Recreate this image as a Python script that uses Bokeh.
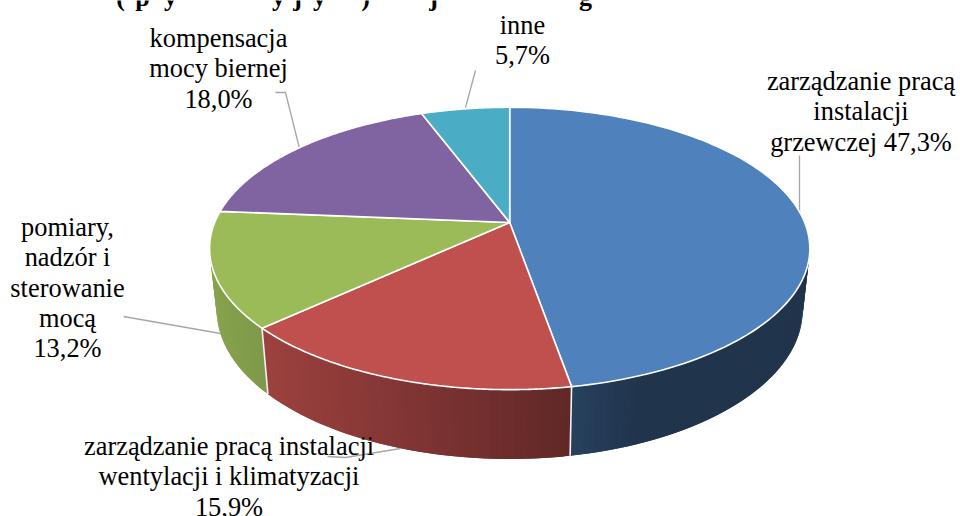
import numpy as np
from bokeh.plotting import figure
from bokeh.models import Range1d
from bokeh.core.properties import value
from bokeh.embed import file_html
from bokeh.resources import INLINE

categories = ["zarządzanie pracą instalacji grzewczej", "zarządzanie pracą instalacji wentylacji i klimatyzacji",
              "pomiary, nadzór i sterowanie mocą", "kompensacja mocy biernej", "inne"]
values = [47.3, 15.9, 13.2, 18.0, 5.7]
colors = ["#4F81BD", "#C0504D", "#9BBB59", "#8064A2", "#4BACC6"]

label_lines = [
    ["zarządzanie pracą", "instalacji", "grzewczej 47,3%"],
    ["zarządzanie pracą instalacji", "wentylacji i klimatyzacji", "15,9%"],
    ["pomiary,", "nadzór i", "sterowanie", "mocą", "13,2%"],
    ["kompensacja", "mocy biernej", "18,0%"],
    ["inne", "5,7%"],
]
label_xy = [(860.5, 80.5), (228.5, 445.5), (67, 226.5), (218, 37.5), (522, 24.5)]
leaders = [
    ([799, 799], [155, 212]),
    ([327, 345, 400], [456, 457, 448]),
    ([123, 220], [316, 333]),
    ([275, 285, 299], [92, 92, 148]),
    ([475, 465], [70, 107]),
]
title_fragments = ["(", "p", "y", "y", "j", "y", ")", "j", "g"]
title_x = [120, 142, 170, 278, 297, 319, 365, 433, 585]

CX, CY_TOP, A, B, K = 509.2, 222, 295, 136.4, 0.184
CY_BOT, A_BOT, B_BOT = 282, 288, 144
SHADE_X = [205, 261, 570, 640, 810]
SHADE_F = [0.88, 0.82, 0.50, 0.40, 0.40]


def top(t):
    u, v = np.sin(t), np.cos(t)
    d = 1 + K * v
    return CX + A * u / d, CY_TOP - B * v / d


def bot(t):
    u, v = np.sin(t), np.cos(t)
    d = 1 + K * v
    return CX + A_BOT * u / d, CY_BOT - B_BOT * v / d


def shade(color, f):
    r, g, b = (int(color[i:i + 2], 16) for i in (1, 3, 5))
    return "#%02x%02x%02x" % (round(r * f), round(g * f), round(b * f))


p = figure(width=960, height=516, output_backend="svg", toolbar_location=None,
           x_range=Range1d(0, 960), y_range=Range1d(516, 0), min_border=0)
p.styles = {"position": "absolute", "left": "0", "top": "0"}
p.axis.visible = False
p.grid.visible = False
p.outline_line_color = None

edges = np.cumsum([0] + values) / sum(values) * 2 * np.pi
VIS0, VIS1 = np.radians(85), np.radians(288)

# side wall strips: each strip overlaps the next one so no seams show
for i, col in enumerate(colors):
    a0, a1 = max(edges[i], VIS0), min(edges[i + 1], VIS1)
    if a1 <= a0:
        continue
    ts = np.linspace(a0, a1, max(2, int((a1 - a0) / np.radians(1.0)) + 1))
    xs, ys, cs = [], [], []
    for j in range(len(ts) - 1):
        t0, t1 = ts[j], ts[min(j + 2, len(ts) - 1)]
        mid = (ts[j] + ts[j + 1]) / 2
        x0, y0 = top(t0); x1, y1 = top(t1)
        x2, y2 = bot(t1); x3, y3 = bot(t0)
        xs.append([x0, x1, x2, x3]); ys.append([y0, y1, y2, y3])
        xm = (top(mid)[0] + bot(mid)[0]) / 2
        cs.append(shade(col, float(np.interp(xm, SHADE_X, SHADE_F))))
    p.patches(xs, ys, fill_color=cs, line_color=None)

# vertical white edges on the wall
for i in range(1, len(values)):
    t = edges[i]
    if VIS0 < t < VIS1:
        x0, y0 = top(t); x1, y1 = bot(t)
        p.line([x0, x1], [y0, y1], line_color="#F2F2F2", line_width=1.6)

# leader lines (behind the pie)
for lx, ly in leaders:
    p.line(lx, ly, line_color="#A6A6A6", line_width=1.3)

# top slices
for i, col in enumerate(colors):
    ts = np.linspace(edges[i], edges[i + 1], 120)
    x, y = top(ts)
    xs = np.concatenate([[CX], x])
    ys = np.concatenate([[CY_TOP], y])
    p.patch(xs, ys, fill_color=col, line_color="white", line_width=1.6, line_join="round")

# labels
for lines, (lx, ly) in zip(label_lines, label_xy):
    yy = [ly + 30.25 * j for j in range(len(lines))]
    p.text([lx] * len(lines), yy, text=lines, text_align="center", text_baseline="middle",
           text_font=value("Liberation Serif"), text_font_size="26.4px", text_color="black")

# clipped remains of the heading above the chart
p.text(title_x, [-3.5] * len(title_x), text=title_fragments, text_align="center",
       text_baseline="alphabetic", text_font=value("Liberation Serif"), text_font_style="bold",
       text_font_size="26px", text_color="black")

open("out.html", "w").write(file_html(p, INLINE))
